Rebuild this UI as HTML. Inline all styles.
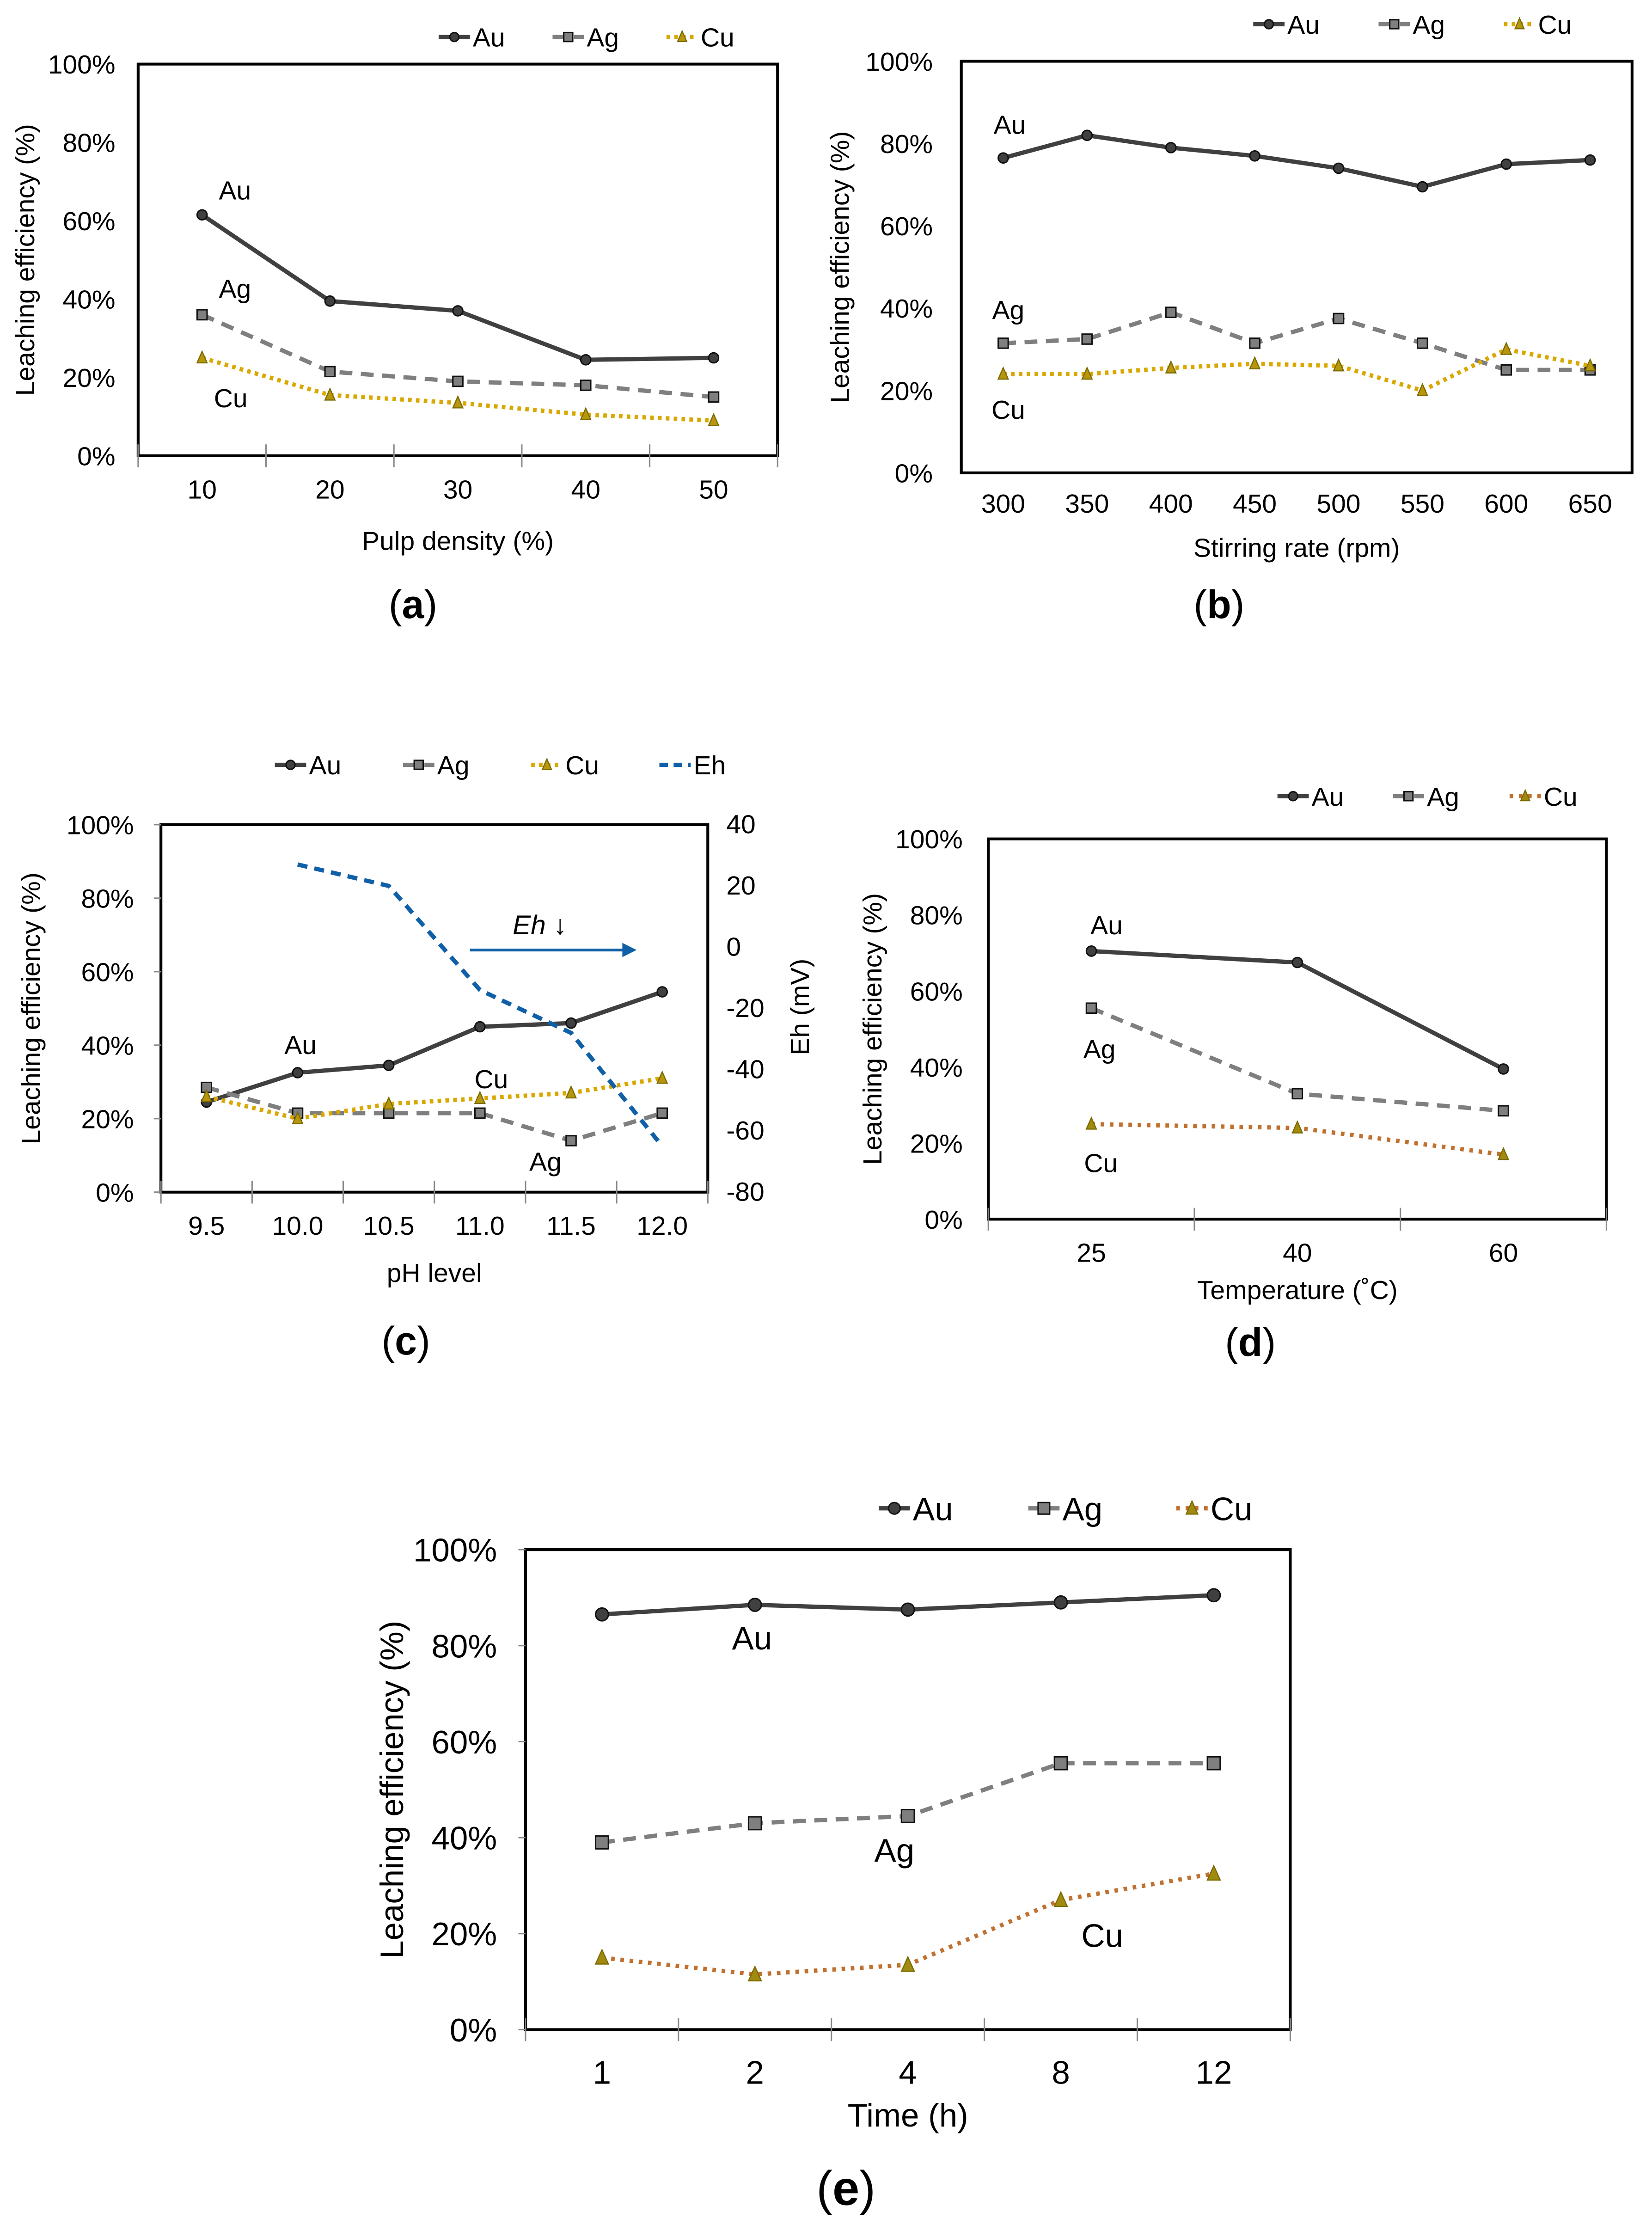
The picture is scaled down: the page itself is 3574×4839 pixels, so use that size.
<!DOCTYPE html>
<html><head><meta charset="utf-8"><style>
html,body{margin:0;padding:0;background:#fff}
svg{display:block}
text{font-family:"Liberation Sans",Arial,sans-serif;fill:#000}
</style></head><body>
<svg id="fig" xmlns="http://www.w3.org/2000/svg" width="3574" height="4839" viewBox="0 0 1160 1570.6" preserveAspectRatio="none"></svg>
<script>
// ---- data ----
const catsA = ["10","20","30","40","50"];
const auA = [61.5,39.5,37,24.5,25];
const agA = [36,21.5,19,18,15];
const cuA = [25,15.5,13.5,10.5,9];

const catsB = ["300","350","400","450","500","550","600","650"];
const auB = [76.5,82,79,77,74,69.5,75,76];
const agB = [31.5,32.5,39,31.5,37.5,31.5,25,25];
const cuB = [24,24,25.5,26.5,26,20,30,26];

const catsC = ["9.5","10.0","10.5","11.0","11.5","12.0"];
const auC = [24.5,32.5,34.5,45,46,54.5];
const agC = [28.5,21.5,21.5,21.5,14,21.5];
const cuC = [26,20,24,25.5,27,31];
const ehC = [null,27,20,-14,-28,-65];
const ehTicks = ["40","20","0","-20","-40","-60","-80"];

const catsD = ["25","40","60"];
const auD = [70.5,67.5,39.5];
const agD = [55.5,33,28.5];
const cuD = [25,24,17];

const catsE = ["1","2","4","8","12"];
const auE = [86.5,88.5,87.5,89,90.5];
const agE = [39,43,44.5,55.5,55.5];
const cuE = [15,11.5,13.5,27,32.5];

const pctTicks = ["0%","20%","40%","60%","80%","100%"];

const NS="http://www.w3.org/2000/svg";
const svg=document.getElementById('fig');
function mk(tag,attrs,parent){const e=document.createElementNS(NS,tag);for(const k in attrs)e.setAttribute(k,attrs[k]);(parent||svg).appendChild(e);return e;}
function txt(s,x,y,size,anchor,parent,extra){const t=mk('text',Object.assign({x:x,y:y,'font-size':size,'text-anchor':anchor||'middle'},extra||{}),parent);t.textContent=s;return t;}

const STY={
 au:{stroke:'#404040',dash:'',w:3,mk:'circle',fill:'#404040'},
 ag:{stroke:'#7f7f7f',dash:'9,6',w:3,mk:'square',fill:'#7f7f7f'},
 cuY:{stroke:'#d9a800',dash:'2.5,3',w:3,mk:'tri',fill:'#b8960c'},
 cuB:{stroke:'#c0702f',dash:'2.5,4',w:3,mk:'tri',fill:'#a08a10'}
};
function marker(kind,x,y,r,fill,g){
 if(kind==='circle')return mk('circle',{cx:x,cy:y,r:r,fill:fill,stroke:'#111','stroke-width':1},g);
 if(kind==='square')return mk('rect',{x:x-r,y:y-r,width:2*r,height:2*r,fill:fill,stroke:'#111','stroke-width':1},g);
 return mk('polygon',{points:`${x},${y-r-1} ${x-r},${y+r} ${x+r},${y+r}`,fill:fill,stroke:'#7a6a00','stroke-width':0.8},g);
}

function chart(c){
 const g=mk('g',{});
 
 
 const n=c.cats.length, w=c.x1-c.x0, h=c.y1-c.y0;
 const xs=i=>c.x0+w*(i+0.5)/n;
 const ys=v=>c.y1-h*v/100;
 const fr=mk('rect',{x:c.x0,y:c.y0,width:w,height:h,fill:'none',stroke:'#000','stroke-width':2},g);
 
 
 pctTicks.forEach((t,i)=>{const v=i*20;const y=ys(v);
  if(c.yticks)mk('line',{x1:c.x0-5,x2:c.x0,y1:y,y2:y,stroke:'#888','stroke-width':1},g);
  const tl=txt(t,c.x0-(c.ylabOff||16),y+c.fs*0.36,c.fs,'end',g);
  
  
 });
 c.cats.forEach((t,i)=>{
  if(c.xticks)mk('line',{x1:c.x0+w*i/n,x2:c.x0+w*i/n,y1:c.y1-8,y2:c.y1+8,stroke:'#888','stroke-width':1},g);
  const tl=txt(t,xs(i),c.y1+(c.xlabOff||28),c.fs,'middle',g);
  
  
 });
 if(c.xticks)mk('line',{x1:c.x1,x2:c.x1,y1:c.y1-8,y2:c.y1+8,stroke:'#888','stroke-width':1},g);
 c.series.forEach(s=>{
  const st=STY[s.style];
  const pts=s.vals.map((v,i)=>`${xs(i)},${ys(v)}`).join(' ');
  const pl=mk('polyline',{points:pts,fill:'none',stroke:st.stroke,'stroke-width':st.w,'stroke-dasharray':st.dash},g);
  
  
  s.vals.forEach((v,i)=>{const m=marker(st.mk,xs(i),ys(v),c.mr,st.fill,g);
   
   });
 });
 c.labels.forEach(l=>{const t=txt(l[0],l[1],l[2],c.fs,'middle',g);
  
  });
 c.legend.forEach(l=>{const st=STY[l[1]]||null;const x=l[2],y=c.legY;
  const lg=mk('g',{},g);
  
  
  if(l[1]==='eh'){mk('line',{x1:x,x2:x+22,y1:y,y2:y,stroke:'#1060a8','stroke-width':3,'stroke-dasharray':'6,4'},lg);}
  else{mk('line',{x1:x,x2:x+22,y1:y,y2:y,stroke:st.stroke,'stroke-width':st.w,'stroke-dasharray':st.dash},lg);
   marker(st.mk,x+11,y,c.mr*0.9,st.fill,lg);}
  txt(l[0],x+24,y+c.fs*0.36,c.fs,'start',lg);
 });
 const yt=txt('Leaching efficiency (%)',0,0,c.fs,'middle',g,{transform:`translate(${c.ytX},${(c.y0+c.y1)/2}) rotate(-90)`});
 
 
 const xt=txt(c.xtitle,(c.x0+c.x1)/2,c.xtY,c.fs,'middle',g);
 
 
 const cap=mk('text',{x:c.capX,y:c.capY,'font-size':c.capFs,'text-anchor':'middle'},g);
 cap.innerHTML='(<tspan font-weight="bold">'+c.cap+'</tspan>)';
 
 
 return {g,xs,ys,n,w,h};
}

chart({name:'chart-a',cats:catsA,x0:97,x1:546,y0:45,y1:320,fs:18.5,mr:3.5,xticks:true,yticks:false,
 series:[{key:'au',vals:auA,style:'au'},{key:'ag',vals:agA,style:'ag'},{key:'cu',vals:cuA,style:'cuY'}],
 labels:[['Au',165,140],['Ag',165,209],['Cu',162,286]],
 legY:26,legend:[['Au','au',308],['Ag','ag',388],['Cu','cuY',468]],
 ytX:24,xtitle:'Pulp density (%)',xtY:386,cap:'a',capX:290,capY:434,capFs:28,xlabOff:30});

chart({name:'chart-b',cats:catsB,x0:675,x1:1146,y0:43,y1:332,fs:18.5,mr:3.5,xticks:false,yticks:false,
 series:[{key:'au',vals:auB,style:'au'},{key:'ag',vals:agB,style:'ag'},{key:'cu',vals:cuB,style:'cuY'}],
 labels:[['Au',709,94],['Ag',708,224],['Cu',708,294]],
 legY:17,legend:[['Au','au',880],['Ag','ag',968],['Cu','cuY',1056]],
 ytX:596,xtitle:'Stirring rate (rpm)',xtY:391,cap:'b',capX:856,capY:434,capFs:28,ylabOff:20});

const cc=chart({name:'chart-c',cats:catsC,x0:113,x1:497,y0:579,y1:837,fs:18.5,mr:3.5,xticks:true,yticks:true,
 series:[{key:'au',vals:auC,style:'au'},{key:'ag',vals:agC,style:'ag'},{key:'cu',vals:cuC,style:'cuY'}],
 labels:[['Au',211,740],['Cu',345,764],['Ag',383,822]],
 legY:537,legend:[['Au','au',193],['Ag','ag',283],['Cu','cuY',373],['Eh','eh',463]],
 ytX:28,xtitle:'pH level',xtY:900,cap:'c',capX:285,capY:951,capFs:28,ylabOff:19,xlabOff:30});
(function(){
 const eMax=40,eMin=-80;
 const ye=v=>579+(eMax-v)/(eMax-eMin)*258;
 ehTicks.forEach(t=>{const tl=txt(t,510,ye(+t)+6,18.5,'start');
  
  });
 let d='';ehC.forEach((v,i)=>{if(v===null)return;d+=(d?' L':'M')+cc.xs(i)+','+ye(v);});
 const p=mk('path',{d:d,fill:'none',stroke:'#1060a8','stroke-width':3,'stroke-dasharray':'7,5','stroke-linejoin':'round'});
 
 
 const yt=txt('Eh (mV)',0,0,18.5,'middle',null,{transform:'translate(568,707) rotate(-90)'});
 
 
 const ar=mk('g',{});
 
 
 mk('line',{x1:330,x2:440,y1:667,y2:667,stroke:'#1060a8','stroke-width':2},ar);
 mk('polygon',{points:'447,667 437,662 437,672',fill:'#1060a8'},ar);
 const t=mk('text',{x:379,y:656,'font-size':19,'text-anchor':'middle'},ar);
 t.innerHTML='<tspan font-style="italic">Eh</tspan> ↓';
})();

chart({name:'chart-d',cats:catsD,x0:694,x1:1128,y0:589,y1:856,fs:18.5,mr:3.5,xticks:true,yticks:false,
 series:[{key:'au',vals:auD,style:'au'},{key:'ag',vals:agD,style:'ag'},{key:'cu',vals:cuD,style:'cuB'}],
 labels:[['Au',777,656],['Ag',772,743],['Cu',773,823]],
 legY:559,legend:[['Au','au',897],['Ag','ag',978],['Cu','cuB',1060]],
 ytX:619,xtitle:'Temperature (˚C)',xtY:912,cap:'d',capX:878,capY:952,capFs:28,ylabOff:18,xlabOff:30});

chart({name:'chart-e',cats:catsE,x0:369,x1:906,y0:1088,y1:1425,fs:23,mr:4.5,xticks:true,yticks:true,
 series:[{key:'au',vals:auE,style:'au'},{key:'ag',vals:agE,style:'ag'},{key:'cu',vals:cuE,style:'cuB'}],
 labels:[['Au',528,1158],['Ag',628,1307],['Cu',774,1367]],
 legY:1059,legend:[['Au','au',617],['Ag','ag',722],['Cu','cuB',826]],
 ytX:283,xtitle:'Time (h)',xtY:1493,cap:'e',capX:594,capY:1548,capFs:34,ylabOff:20,xlabOff:38});
</script>
</body></html>
